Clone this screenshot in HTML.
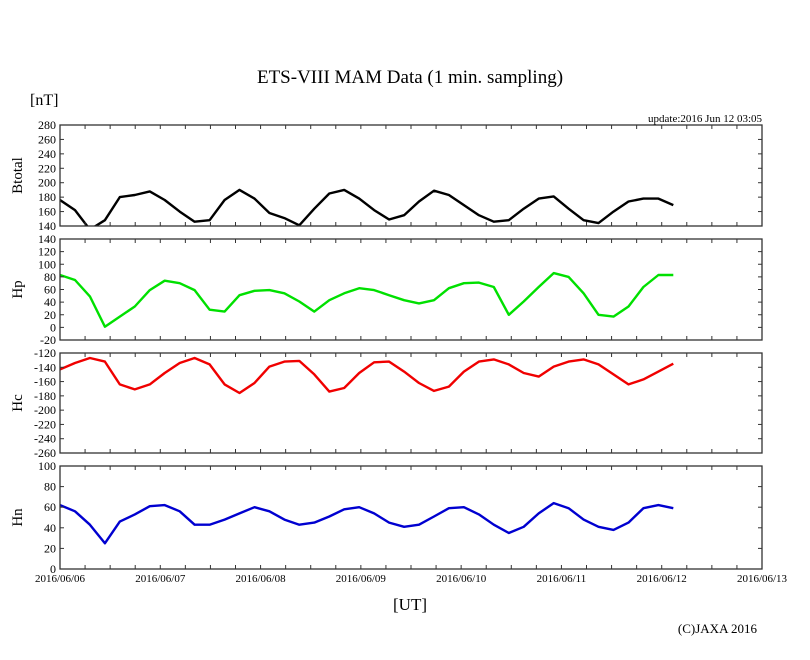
<!DOCTYPE html>
<html><head><meta charset="utf-8"><style>
body{margin:0;background:#fff}
svg text{font-family:"Liberation Serif",serif;fill:#000}
</style></head><body>
<svg id="c" width="810" height="655" xmlns="http://www.w3.org/2000/svg">
<text x="410" y="83" font-size="19" text-anchor="middle">ETS-VIII MAM Data (1 min. sampling)</text>
<text x="30" y="105" font-size="16">[nT]</text>
<text x="762" y="122" font-size="11" text-anchor="end">update:2016 Jun 12 03:05</text>
<text x="410" y="610" font-size="17" text-anchor="middle">[UT]</text>
<text x="757" y="633" font-size="13" text-anchor="end">(C)JAXA 2016</text>
</svg>
<script>
const dayLabels=["2016/06/06","2016/06/07","2016/06/08","2016/06/09","2016/06/10","2016/06/11","2016/06/12","2016/06/13"];
const stepHours=3.58;
const btotal=[176,162,135,148,180,183,188,176,160,146,148,176,190,178,158,151,141,164,185,190,178,162,149,155,174,189,183,169,155,146,148,164,178,181,164,148,144,160,174,178,178,169];
const hp=[83,75,49,1,17,33,59,74,70,59,28,25,51,58,59,54,41,25,43,54,62,59,51,43,38,43,62,70,71,64,20,41,64,86,80,54,20,17,33,64,83,83];
const hc=[-143,-134,-127,-132,-164,-171,-164,-148,-134,-127,-136,-164,-176,-162,-139,-132,-131,-150,-174,-169,-148,-133,-132,-146,-162,-173,-167,-146,-132,-129,-136,-148,-153,-139,-132,-129,-136,-150,-164,-157,-146,-135];
const hn=[62,56,43,25,46,53,61,62,56,43,43,48,54,60,56,48,43,45,51,58,60,54,45,41,43,51,59,60,53,43,35,41,54,64,59,48,41,38,45,59,62,59];
const btTicks=[140,160,180,200,220,240,260,280];
const hpTicks=[-20,0,20,40,60,80,100,120,140];
const hcTicks=[-260,-240,-220,-200,-180,-160,-140,-120];
const hnTicks=[0,20,40,60,80,100];
const svg=document.getElementById('c');
const NS='http://www.w3.org/2000/svg';
const X0=60,X1=762,DAYS=7;
function xs(h){return X0+h/24*(X1-X0)/DAYS;}
function mk(t,a){const e=document.createElementNS(NS,t);for(const k in a)e.setAttribute(k,a[k]);svg.appendChild(e);return e;}
const panels=[
 {name:'btotal',title:'Btotal',top:125,bot:226,ticks:btTicks,data:btotal,color:'#000'},
 {name:'hp',title:'Hp',top:239,bot:340,ticks:hpTicks,data:hp,color:'#00e000'},
 {name:'hc',title:'Hc',top:353,bot:453,ticks:hcTicks,data:hc,color:'#f00000'},
 {name:'hn',title:'Hn',top:466,bot:569,ticks:hnTicks,data:hn,color:'#0000d0'}];
panels.forEach(p=>{
 const lo=p.ticks[0],hi=p.ticks[p.ticks.length-1];
 const ys=v=>p.bot-(v-lo)/(hi-lo)*(p.bot-p.top);
 const cp=mk('clipPath',{id:'cl-'+p.name});
 const r=document.createElementNS(NS,'rect');r.setAttribute('x',X0);r.setAttribute('y',p.top);r.setAttribute('width',X1-X0);r.setAttribute('height',p.bot-p.top);cp.appendChild(r);
 let d='';p.data.forEach((v,i)=>{d+=(i?'L':'M')+xs(i*stepHours).toFixed(1)+','+ys(v).toFixed(1);});
 const line=mk('path',{d:d,fill:'none',stroke:p.color,'stroke-width':2.4,'stroke-linejoin':'round','clip-path':'url(#cl-'+p.name+')'});
 
 
 const box=mk('rect',{x:X0,y:p.top,width:X1-X0,height:p.bot-p.top,fill:'none',stroke:'#333','stroke-width':1.3});
 
 
 p.ticks.forEach(v=>{
  const y=ys(v);
  mk('line',{x1:X0,x2:X0+4,y1:y,y2:y,stroke:'#333'});
  mk('line',{x1:X1-4,x2:X1,y1:y,y2:y,stroke:'#333'});
  const t=mk('text',{x:X0-4,y:y+4,'font-size':12,'text-anchor':'end'});t.textContent=v;
  
  
 });
 for(let h=6;h<DAYS*24;h+=6){const x=xs(h);
  mk('line',{x1:x,x2:x,y1:p.top,y2:p.top+4,stroke:'#333'});
  mk('line',{x1:x,x2:x,y1:p.bot-4,y2:p.bot,stroke:'#333'});}
 const cy=(p.top+p.bot)/2;
 const tt=mk('text',{x:22,y:cy,'font-size':15,'text-anchor':'middle',transform:'rotate(-90 22 '+cy+')'});tt.textContent=p.title;
 
 
});
dayLabels.forEach((s,i)=>{
 const t=mk('text',{x:xs(i*24),y:582,'font-size':11,'text-anchor':'middle'});t.textContent=s;
 
 
});
</script>
</body></html>
